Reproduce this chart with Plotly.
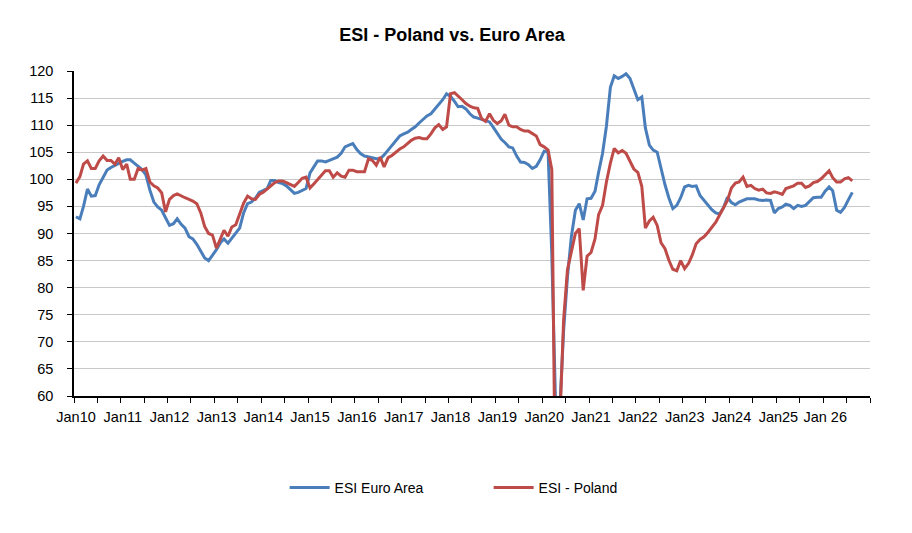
import pandas as pd
import plotly.graph_objects as go

# ESI readings, monthly, Jan 2010 - Aug 2026
esi_euro_area = [
    93.1, 92.7, 95.0, 98.2, 96.9, 97.0, 99.0, 100.3, 101.7, 102.2, 102.6, 102.9,        # 2010
    103.3, 103.6, 103.6, 103.0, 102.4, 101.8, 100.8, 98.0, 95.8, 94.9, 94.3, 92.8,      # 2011
    91.5, 91.8, 92.7, 91.7, 91.0, 89.4, 89.0, 88.0, 86.8, 85.5, 85.0, 85.9,             # 2012
    87.0, 88.3, 89.0, 88.2, 89.2, 90.0, 91.0, 93.8, 95.5, 95.8, 96.5, 97.6,             # 2013
    98.0, 98.3, 99.8, 99.8, 99.4, 99.2, 98.8, 98.0, 97.4, 97.6, 98.0, 98.3,             # 2014
    101.2, 102.5, 103.4, 103.4, 103.2, 103.5, 103.8, 104.1, 104.8, 106.0, 106.3, 106.6, # 2015
    105.5, 104.7, 104.3, 104.1, 104.0, 103.8, 103.8, 104.5, 105.4, 106.2, 107.0, 108.0, # 2016
    108.4, 108.7, 109.2, 109.7, 110.4, 111.1, 111.7, 112.1, 113.0, 113.9, 114.7, 115.8, # 2017
    115.3, 114.4, 113.4, 113.5, 113.0, 112.1, 111.5, 111.3, 111.1, 110.9, 110.6, 109.6, # 2018
    108.5, 107.4, 106.8, 106.0, 105.8, 104.3, 103.2, 103.1, 102.7, 102.0, 102.4, 103.6, # 2019
    105.2, 105.0, 86.0, 57.0, 57.0, 72.0, 82.0, 89.5, 94.3, 95.5, 92.5, 96.4,           # 2020
    96.5, 97.8, 101.3, 104.8, 109.8, 117.0, 119.1, 118.6, 119.0, 119.5, 118.6, 116.5,   # 2021
    114.7, 115.2, 109.5, 106.3, 105.4, 105.0, 101.8, 99.0, 96.5, 94.6, 95.2, 96.6,      # 2022
    98.6, 98.9, 98.7, 98.8, 97.0, 96.1, 95.4, 94.4, 93.8, 93.6, 94.8, 96.7,             # 2023
    95.7, 95.3, 95.8, 96.1, 96.4, 96.4, 96.4, 96.2, 96.1, 96.2, 96.1, 93.8,             # 2024
    94.6, 94.9, 95.4, 95.2, 94.6, 95.2, 95.0, 95.2, 95.9, 96.6, 96.7, 96.7,             # 2025
    97.8, 98.6, 97.9, 94.3, 93.9, 94.8, 96.2, 97.6,                                     # 2026
]

esi_poland = [
    99.3, 100.5, 102.8, 103.4, 102.0, 102.0, 103.4, 104.3, 103.5, 103.5, 102.8, 104.0,  # 2010
    101.8, 102.8, 100.0, 100.0, 102.0, 101.7, 102.0, 99.5, 98.8, 98.4, 97.5, 94.0,      # 2011
    96.3, 97.0, 97.3, 96.9, 96.6, 96.3, 96.0, 95.5, 93.8, 91.3, 90.0, 89.7,             # 2012
    87.3, 89.0, 90.6, 89.5, 91.2, 91.6, 93.5, 95.6, 96.9, 96.4, 96.3, 97.2,             # 2013
    97.6, 98.2, 98.8, 99.4, 99.7, 99.7, 99.4, 99.0, 98.7, 99.4, 100.2, 100.4,           # 2014
    98.4, 99.2, 100.0, 100.9, 101.6, 101.6, 100.4, 101.2, 100.6, 100.4, 101.7, 101.7,   # 2015
    101.4, 101.4, 101.4, 103.8, 103.5, 102.6, 104.1, 102.3, 104.0, 104.4, 105.0, 105.6, # 2016
    106.0, 106.6, 107.2, 107.6, 107.7, 107.5, 107.5, 108.4, 109.5, 110.1, 109.2, 109.7, # 2017
    115.8, 116.0, 115.3, 114.7, 114.0, 113.5, 113.2, 113.1, 111.2, 110.7, 112.1, 110.9, # 2018
    110.3, 110.8, 112.0, 110.0, 109.7, 109.7, 109.2, 108.9, 108.9, 108.5, 108.0, 106.4, # 2019
    106.0, 105.4, 101.8, 35.0, 55.0, 74.0, 83.3, 87.0, 90.0, 90.9, 79.5, 85.8,          # 2020
    86.5, 89.0, 93.5, 95.2, 99.5, 103.0, 105.7, 104.9, 105.3, 104.8, 103.3, 101.9,      # 2021
    101.3, 98.7, 91.0, 92.3, 93.0, 91.5, 88.3, 87.2, 85.0, 83.4, 83.1, 85.0,            # 2022
    83.5, 84.5, 86.0, 88.1, 88.9, 89.4, 90.2, 91.1, 92.1, 93.4, 94.9, 96.1,             # 2023
    98.4, 99.3, 99.5, 100.4, 98.7, 98.9, 98.3, 98.0, 98.2, 97.5, 97.4, 97.7,            # 2024
    97.5, 97.2, 98.3, 98.5, 98.8, 99.3, 99.3, 98.5, 98.8, 99.4, 99.6, 100.1,            # 2025
    100.9, 101.6, 100.3, 99.5, 99.5, 100.1, 100.3, 99.7,                                # 2026
]

year_labels = ["Jan10", "Jan11", "Jan12", "Jan13", "Jan14", "Jan15", "Jan16", "Jan17", "Jan18",
               "Jan19", "Jan20", "Jan21", "Jan22", "Jan23", "Jan24", "Jan25", "Jan 26"]

# each month is a category, points sit in the middle of it (like excel)
months = pd.date_range("2010-01-01", periods=len(esi_euro_area), freq="MS")
x_mid = months + pd.Timedelta(days=15)

# tick marks every half year, label only on January
tick_dates = pd.date_range("2010-01-01", "2027-01-01", freq="6MS")
tick_text = []
for d in tick_dates:
    i = d.year - 2010
    tick_text.append(year_labels[i] if d.month == 1 and i < len(year_labels) else "")

FONT = "Liberation Sans, Arial, sans-serif"
W, H = 912, 533
PAGE_OFFSET = 8  # default body margin of the html page

fig = go.Figure()
fig.add_trace(go.Scatter(x=x_mid, y=esi_euro_area, mode="lines", name="ESI Euro Area",
                         line=dict(color="#4A7EBB", width=3)))
fig.add_trace(go.Scatter(x=x_mid, y=esi_poland, mode="lines", name="ESI - Poland",
                         line=dict(color="#BE4B48", width=3)))

fig.update_layout(
    width=W, height=H,
    margin=dict(l=74 - PAGE_OFFSET, r=42 + PAGE_OFFSET, t=71 - PAGE_OFFSET, b=137 + PAGE_OFFSET),
    paper_bgcolor="white", plot_bgcolor="white",
    font=dict(family=FONT, size=14, color="#000000"),
    title=dict(text="<b>ESI - Poland vs. Euro Area</b>",
               x=(452 - PAGE_OFFSET) / W, xanchor="center",
               y=1 - (35 - PAGE_OFFSET) / H, yanchor="middle", font=dict(size=18, family=FONT)),
    legend=dict(orientation="h", xref="container", yref="container",
                x=0.527, xanchor="center", y=1 - (488 - PAGE_OFFSET) / H, yanchor="middle",
                font=dict(size=14), entrywidth=149, itemwidth=40),
    showlegend=True,
)

fig.update_xaxes(
    type="date", range=["2010-01-01", "2027-01-01"],
    tickmode="array", tickvals=tick_dates, ticktext=tick_text,
    ticks="outside", ticklen=5, tickwidth=1.3, tickcolor="#000000",
    showline=True, linecolor="#000000", linewidth=1.5,
    showgrid=False, zeroline=False, tickfont=dict(size=14.5),
    ticklabelstandoff=2, ticklabelshift=2,
)
fig.update_yaxes(
    range=[60, 120], tickmode="linear", tick0=60, dtick=5,
    ticks="outside", ticklen=5, tickwidth=1.3, tickcolor="#000000",
    showline=True, linecolor="#000000", linewidth=1.5,
    showgrid=True, gridcolor="#C8C8C8", gridwidth=1.3,
    zeroline=False, tickfont=dict(size=14.5), ticklabelstandoff=11,
)

fig.write_html("out.html")
